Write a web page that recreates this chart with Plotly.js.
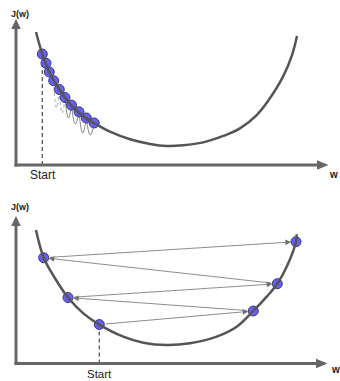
<!DOCTYPE html>
<html>
<head>
<meta charset="utf-8">
<script src="https://cdn.plot.ly/plotly-3.0.1.min.js"></script>
<style>
html,body{margin:0;padding:0;background:#fff;}
#chart{width:340px;height:381px;}
</style>
</head>
<body>
<div id="chart"></div>
<script>
// ---- Data (w = weight, J = cost) ----
// Top panel: cost curve samples
const topCurveW = [0.641,0.843,1.067,1.388,1.772,2.244,2.510,3.013,3.654,4.295,4.830,5.362,6.003,6.644,7.179,7.715,8.077,8.558,8.846,9.006];
const topCurveJ = [9.11,7.60,6.37,5.17,4.09,3.21,2.86,2.28,1.76,1.44,1.30,1.35,1.55,1.99,2.51,3.42,4.38,6.05,7.53,8.84];
// Top panel: small-learning-rate steps
const topStepW = [0.843,0.962,1.067,1.208,1.388,1.571,1.779,2.019,2.253,2.506];
const topStepJ = [7.60,6.97,6.37,5.77,5.17,4.62,4.10,3.64,3.22,2.88];
// Top panel: little hops between steps (bottom of each hop), from step 4 on
const hopFrom = [3,4,5,6,7,8];
const hopBotW = [1.30,1.48,1.68,1.90,2.14,2.38];
const hopBotJ = [3.90,3.56,3.22,2.81,2.19,2.05];
const hopDotted = [true,true,false,false,false,false];

// Bottom panel: cost curve samples
const botCurveW = [0.641,0.888,1.250,1.667,2.157,2.670,3.439,4.080,4.830,5.577,6.433,7.074,7.606,8.035,8.375,8.676,8.974,8.997];
const botCurveJ = [9.05,7.17,5.78,4.47,3.40,2.64,1.82,1.41,1.25,1.37,1.82,2.49,3.56,4.53,5.41,6.56,8.26,8.76];
// Bottom panel: large-learning-rate steps, in visiting order (diverging)
const botStepW = [2.670,7.606,1.667,8.375,0.888,8.974];
const botStepJ = [2.64,3.56,4.47,5.41,7.17,8.26];

const labels = {yAxis:'J(w)', xAxis:'w', start:'Start'};

// ---- helpers for paper coordinates from page pixels (margins are zero) ----
const W = 340, H = 381;
const P = x => x / W;
const Q = y => 1 - y / H;

const curveColor = '#555555';
const markerStyle = {size:10, color:'rgba(88,78,245,0.9)', line:{color:'#3c3a78', width:1}};

const traces = [];

// top hops (drawn first, under the markers)
hopFrom.forEach((i, k) => {
  traces.push({
    x:[topStepW[i], hopBotW[k], topStepW[i+1]],
    y:[topStepJ[i], hopBotJ[k], topStepJ[i+1]],
    xaxis:'x', yaxis:'y', mode:'lines', hoverinfo:'skip', showlegend:false,
    line:{shape:'spline', smoothing:1.3, color: hopDotted[k] ? '#aaaaaa' : '#8a8a8a', width:1, dash: hopDotted[k] ? 'dot' : 'solid'}
  });
});
// top dashed start line
traces.push({x:[topStepW[0], topStepW[0]], y:[0, topStepJ[0]], xaxis:'x', yaxis:'y', mode:'lines',
  hoverinfo:'skip', showlegend:false, line:{color:curveColor, width:1.3, dash:'4px,3px'}});
// top markers
traces.push({x:topStepW, y:topStepJ, xaxis:'x', yaxis:'y', mode:'markers', hoverinfo:'skip', showlegend:false, marker:markerStyle});
// top curve
traces.push({x:topCurveW, y:topCurveJ, xaxis:'x', yaxis:'y', mode:'lines', hoverinfo:'skip', showlegend:false,
  line:{shape:'spline', smoothing:1, color:curveColor, width:2.5}});

// bottom dashed start line
traces.push({x:[botStepW[0], botStepW[0]], y:[0, botStepJ[0]], xaxis:'x2', yaxis:'y2', mode:'lines',
  hoverinfo:'skip', showlegend:false, line:{color:curveColor, width:1.3, dash:'4px,3px'}});
// bottom markers
traces.push({x:botStepW, y:botStepJ, xaxis:'x2', yaxis:'y2', mode:'markers', hoverinfo:'skip', showlegend:false, marker:markerStyle});
// bottom curve
traces.push({x:botCurveW, y:botCurveJ, xaxis:'x2', yaxis:'y2', mode:'lines', hoverinfo:'skip', showlegend:false,
  line:{shape:'spline', smoothing:1, color:curveColor, width:2.5}});

// bottom step arrows
const annotations = [];
for (let i = 0; i < botStepW.length - 1; i++) {
  annotations.push({
    xref:'x2', yref:'y2', axref:'x2', ayref:'y2',
    x: botStepW[i+1], y: botStepJ[i+1], ax: botStepW[i], ay: botStepJ[i],
    text:'', showarrow:true, arrowhead:2, arrowsize:1.4, arrowwidth:0.8, arrowcolor:'#707070',
    standoff:5, startstandoff:5
  });
}

// text labels
const txt = (t, x, y, size, bold) => ({
  xref:'paper', yref:'paper', x:P(x), y:Q(y), xanchor:'center', yanchor:'middle', showarrow:false,
  text: bold ? '<b>' + t + '</b>' : t,
  font:{family:'Liberation Sans, Arial, sans-serif', size:size, color:'#222'}
});
annotations.push(txt(labels.yAxis, 19.5, 13.5, 9, true));
annotations.push(txt(labels.yAxis, 19.5, 207, 9, true));
annotations.push(txt(labels.xAxis, 333.5, 174, 10, true));
annotations.push(txt(labels.xAxis, 335, 369, 10, true));
annotations.push(txt(labels.start, 43, 175, 12, false));
annotations.push(txt(labels.start, 99.5, 374, 11.5, false));

// axis arrows as shapes
const axisColor = '#666666';
function axisShapes(originY, topTip, rightTip) {
  return [
    {type:'line', xref:'paper', yref:'paper', x0:P(16), y0:Q(originY+1.5), x1:P(16), y1:Q(topTip+9), line:{color:axisColor, width:3}},
    {type:'path', xref:'paper', yref:'paper', fillcolor:axisColor, line:{width:0},
      path:`M ${P(16)} ${Q(topTip)} L ${P(11.2)} ${Q(topTip+10)} L ${P(20.8)} ${Q(topTip+10)} Z`},
    {type:'line', xref:'paper', yref:'paper', x0:P(14.5), y0:Q(originY), x1:P(rightTip-10), y1:Q(originY), line:{color:axisColor, width:3}},
    {type:'path', xref:'paper', yref:'paper', fillcolor:axisColor, line:{width:0},
      path:`M ${P(rightTip)} ${Q(originY)} L ${P(rightTip-11.5)} ${Q(originY-4.8)} L ${P(rightTip-11.5)} ${Q(originY+4.8)} Z`}
  ];
}
const shapes = axisShapes(165, 19, 328.5).concat(axisShapes(363.5, 216, 327.5));

const hidden = {showgrid:false, zeroline:false, showticklabels:false, showline:false, ticks:'', fixedrange:true, range:[0,10]};

const layout = {
  width:W, height:H, margin:{l:0, r:0, t:0, b:0},
  paper_bgcolor:'#ffffff', plot_bgcolor:'rgba(0,0,0,0)', showlegend:false,
  xaxis: Object.assign({}, hidden, {domain:[P(16), P(328)], anchor:'y'}),
  yaxis: Object.assign({}, hidden, {domain:[Q(165), Q(19)], anchor:'x'}),
  xaxis2: Object.assign({}, hidden, {domain:[P(16), P(328)], anchor:'y2'}),
  yaxis2: Object.assign({}, hidden, {domain:[Q(363.5), Q(216)], anchor:'x2'}),
  shapes: shapes,
  annotations: annotations
};

Plotly.newPlot('chart', traces, layout, {displayModeBar:false, staticPlot:true});
</script>
</body>
</html>
